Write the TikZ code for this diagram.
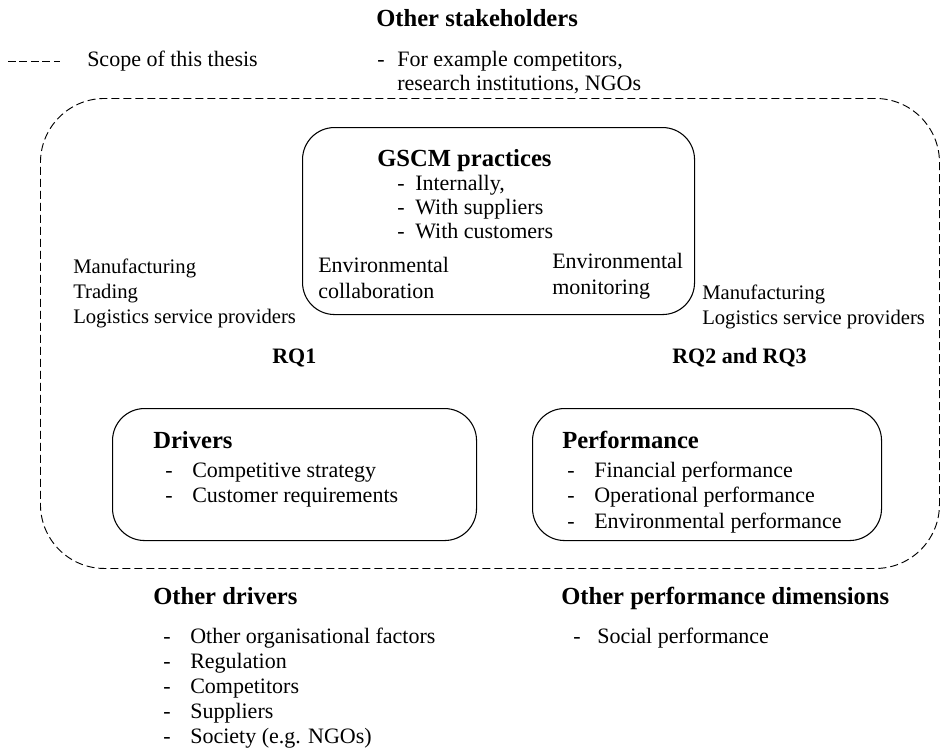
\documentclass[tikz,border=0pt]{standalone}
\usepackage{fontspec}
\setmainfont{Liberation Serif}
\begin{document}
\begin{tikzpicture}[x=0.75pt,y=-0.75pt,
  txt/.style={anchor=base west, inner sep=0pt, font=\fontsize{16.5}{19}\selectfont},
  sect/.style={anchor=base west, inner sep=0pt, font=\fontsize{15.5}{18}\selectfont},
  hd/.style={anchor=base west, inner sep=0pt, font=\fontsize{18.45}{21}\selectfont\bfseries},
  rq/.style={anchor=base west, inner sep=0pt, font=\fontsize{16.5}{19}\selectfont\bfseries},
  box/.style={draw, line width=0.8pt, rounded corners=24pt, anchor=north west, inner sep=0pt},
  scopeline/.style={line width=0.7pt, dash pattern=on 6pt off 2.6pt},
  scopebox/.style={draw, line width=0.7pt, dash pattern=on 6pt off 3pt, rounded corners=48pt, anchor=north west, inner sep=0pt}]
\useasboundingbox (0,0) rectangle (941,754);

% legend
\coordinate (lg1) at (8,61);
\coordinate (lg2) at (60,61);
\draw[scopeline] (lg1) -- (lg2);
\node[txt] (scopet) at (87,66) {Scope of this thesis};

% other stakeholders
\node[hd] (oth) at (376,26) {Other stakeholders};
\node[txt] (osd) at (377,66) {-};
\node[txt] (os1) at (397,66) {For example competitors,};
\node[txt] (os2) at (397,90) {research institutions, NGOs};

% scope
\node[scopebox, minimum width=674.25pt, minimum height=352.5pt] (scope) at (40,98) {};

% GSCM
\node[box, minimum width=294pt, minimum height=140.25pt] (gscm) at (302,127) {};
\node[hd] (gh) at (377,166) {GSCM practices};
\node[txt] (gd1) at (397,190) {-};
\node[txt] (gi1) at (415,190) {Internally,};
\node[txt] (gd2) at (397,214) {-};
\node[txt] (gi2) at (415,214) {With suppliers};
\node[txt] (gd3) at (397,238) {-};
\node[txt] (gi3) at (415,238) {With customers};
\node[txt] (ec1) at (318,272) {Environmental};
\node[txt] (ec2) at (318,298) {collaboration};
\node[txt] (em1) at (552,268) {Environmental};
\node[txt] (em2) at (552,294) {monitoring};

% sectors
\node[sect] (l1) at (73,273) {Manufacturing};
\node[sect] (l2) at (73,298) {Trading};
\node[sect] (l3) at (73,323) {Logistics service providers};
\node[sect] (r1) at (702,299) {Manufacturing};
\node[sect] (r2) at (702,324) {Logistics service providers};

\node[rq] (rq1) at (272,363) {RQ1};
\node[rq] (rq23) at (672,363) {RQ2 and RQ3};

% drivers
\node[box, minimum width=273pt, minimum height=99pt] (drv) at (112,408) {};
\node[hd] (dh) at (153,448) {Drivers};
\node[txt] (dd1) at (165,477) {-};
\node[txt] (di1) at (192,477) {Competitive strategy};
\node[txt] (dd2) at (165,502) {-};
\node[txt] (di2) at (192,502) {Customer requirements};

% performance
\node[box, minimum width=261.75pt, minimum height=99pt] (perf) at (532,408) {};
\node[hd] (ph) at (562,448) {Performance};
\node[txt] (pd1) at (567,477) {-};
\node[txt] (pi1) at (594,477) {Financial performance};
\node[txt] (pd2) at (567,502) {-};
\node[txt] (pi2) at (594,502) {Operational performance};
\node[txt] (pd3) at (567,528) {-};
\node[txt] (pi3) at (594,528) {Environmental performance};

% other drivers
\node[hd] (odh) at (153,604) {Other drivers};
\node[txt] (odd1) at (163,643) {-};
\node[txt] (odi1) at (190,643) {Other organisational factors};
\node[txt] (odd2) at (163,668) {-};
\node[txt] (odi2) at (190,668) {Regulation};
\node[txt] (odd3) at (163,693) {-};
\node[txt] (odi3) at (190,693) {Competitors};
\node[txt] (odd4) at (163,718) {-};
\node[txt] (odi4) at (190,718) {Suppliers};
\node[txt] (odd5) at (163,743) {-};
\node[txt] (odi5) at (190,743) {Society (e.g. NGOs)};

% other performance dimensions
\node[hd] (oph) at (561,604) {Other performance dimensions};
\node[txt] (opd1) at (573,643) {-};
\node[txt] (opi1) at (597,643) {Social performance};
\end{tikzpicture}
\end{document}
